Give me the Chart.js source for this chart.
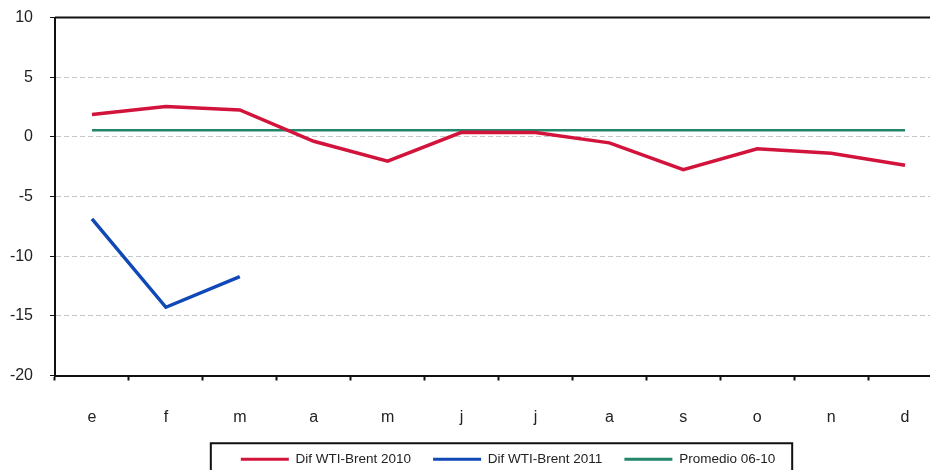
<!DOCTYPE html>
<html lang="es">
<head>
    <meta charset="UTF-8">
    <title>Dif WTI-Brent</title>
    <script src="https://cdn.jsdelivr.net/npm/chart.js@4.4.1/dist/chart.umd.min.js"></script>
    <style>
        html, body { margin: 0; padding: 0; background: #fff; overflow: hidden; }
        /* shifted up a little so the plot top lines up with the original */
        #wrap { width: 945px; height: 485px; position: relative; top: -9px; }
    </style>
</head>
<body>
    <div id="wrap">
        <canvas id="chart"></canvas>
    </div>
    <script>
        // months (es)
        const months = ['e', 'f', 'm', 'a', 'm', 'j', 'j', 'a', 's', 'o', 'n', 'd'];

        // values
        const dif2010 = [1.87, 2.54, 2.26, -0.37, -2.04, 0.39, 0.36, -0.5, -2.74, -1.0, -1.37, -2.38];
        const dif2011 = [-6.87, -14.28, -11.71, null, null, null, null, null, null, null, null, null];
        const promedio = [0.55, 0.55, 0.55, 0.55, 0.55, 0.55, 0.55, 0.55, 0.55, 0.55, 0.55, 0.55];

        const yTicks = { min: -20, max: 10, step: 5 };

        // frame on top of plot + box around legend
        const framePlugin = {
            id: 'frame',
            afterLayout(chart) {
                // legend sits a bit right of centre in the original
                chart.legend.left += 74;
            },
            afterDraw(chart) {
                const ctx = chart.ctx;
                const area = chart.chartArea;
                ctx.save();
                ctx.strokeStyle = '#111';
                ctx.lineWidth = 2;
                ctx.beginPath();
                ctx.moveTo(area.left, area.top);
                ctx.lineTo(area.right, area.top);
                ctx.stroke();

                const boxes = chart.legend.legendHitBoxes;
                if (boxes && boxes.length) {
                    const left = Math.min(...boxes.map(b => b.left)) - 30;
                    const right = Math.max(...boxes.map(b => b.left + b.width)) + 17;
                    const midY = boxes[0].top + boxes[0].height / 2;
                    ctx.strokeRect(left, midY - 16, right - left, 40);
                }
                ctx.restore();
            }
        };

        const ctx = document.getElementById('chart').getContext('2d');
        const chart = new Chart(ctx, {
            type: 'line',
            data: {
                labels: months,
                datasets: [
                    {
                        label: 'Dif WTI-Brent 2010',
                        data: dif2010,
                        borderColor: '#d2143c',
                        backgroundColor: '#d2143c',
                        borderWidth: 3.5
                    },
                    {
                        label: 'Dif WTI-Brent 2011',
                        data: dif2011,
                        borderColor: '#1048b8',
                        backgroundColor: '#1048b8',
                        borderWidth: 3.5
                    },
                    {
                        label: 'Promedio 06-10',
                        data: promedio,
                        borderColor: '#23866a',
                        backgroundColor: '#23866a',
                        borderWidth: 2.5
                    }
                ]
            },
            options: {
                responsive: true,
                maintainAspectRatio: false,
                animation: false,
                layout: { padding: { top: 8, left: 0, right: 3, bottom: 0 } },
                elements: {
                    point: { radius: 0 },
                    line: { tension: 0 }
                },
                plugins: {
                    tooltip: { enabled: false },
                    legend: {
                        position: 'bottom',
                        labels: {
                            color: '#222',
                            font: { family: 'Arial, "Liberation Sans", sans-serif', size: 13.5 },
                            boxWidth: 48,
                            boxHeight: 3,
                            padding: 22,
                            generateLabels(chart) {
                                return chart.data.datasets.map((ds, i) => ({
                                    text: ds.label,
                                    fillStyle: ds.borderColor,
                                    strokeStyle: ds.borderColor,
                                    lineWidth: 0,
                                    fontColor: '#222',
                                    datasetIndex: i
                                }));
                            }
                        }
                    }
                },
                scales: {
                    x: {
                        offset: true,
                        grid: {
                            offset: true,
                            drawOnChartArea: false,
                            drawTicks: true,
                            tickLength: 5,
                            tickColor: '#111',
                            tickWidth: 2
                        },
                        border: { color: '#111', width: 2 },
                        ticks: {
                            color: '#222',
                            font: { family: 'Arial, "Liberation Sans", sans-serif', size: 16 },
                            padding: 27,
                            maxRotation: 0
                        },
                        afterFit(scale) { scale.height = 55; }
                    },
                    y: {
                        min: yTicks.min,
                        max: yTicks.max,
                        ticks: {
                            stepSize: yTicks.step,
                            color: '#222',
                            font: { family: 'Arial, "Liberation Sans", sans-serif', size: 16 },
                            padding: 17
                        },
                        grid: {
                            color: c => (c.tick.value === yTicks.max || c.tick.value === yTicks.min) ? 'rgba(0,0,0,0)' : '#c4c8cc',
                            tickColor: '#111',
                            tickLength: 5,
                            lineWidth: 1
                        },
                        border: { color: '#111', width: 2, dash: [5, 3] },
                        afterFit(scale) { scale.width = 55; }
                    }
                }
            },
            plugins: [framePlugin]
        });
    </script>
</body>
</html>
